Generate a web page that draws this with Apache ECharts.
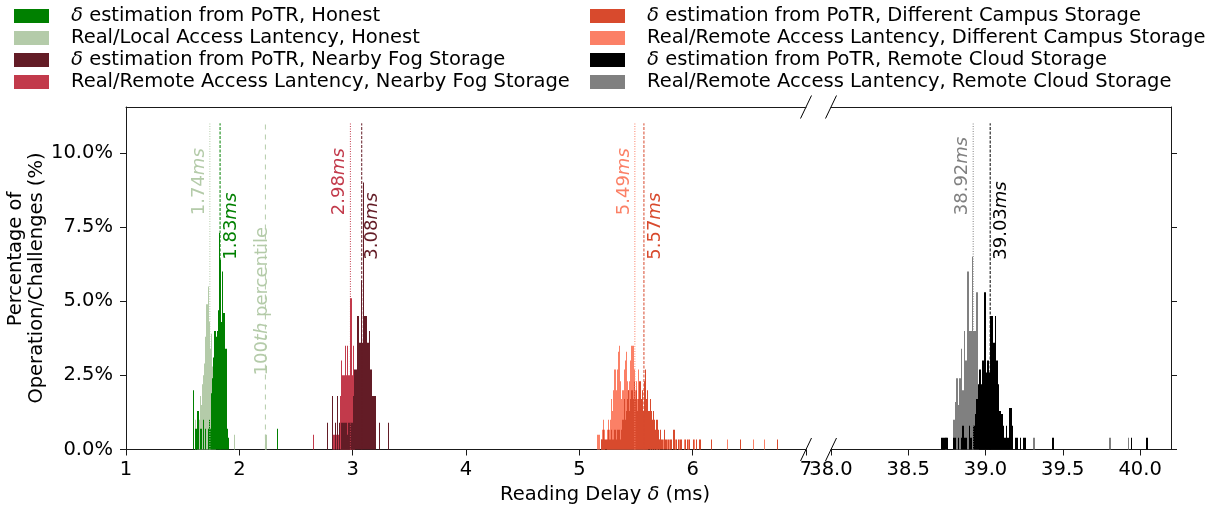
<!DOCTYPE html>
<html>
<head>
<meta charset="utf-8">
<script src="https://cdn.jsdelivr.net/npm/echarts@6/dist/echarts.min.js"></script>
<style>
html, body { margin: 0; padding: 0; background: #fff; }
#chart { width: 1222px; height: 513px; }
</style>
</head>
<body>
<div id="chart"></div>
<script>
var FONT = 'DejaVu Sans';
var FS = 19.5;    // tick / legend / axis title size
var FS_NOTE = 18; // annotation size
var BIN = 0.01;   // histogram bin width (ms)

// series names (legend order)
var names = [
    'δ estimation from PoTR, Honest',
    'Real/Local Access Lantency, Honest',
    'δ estimation from PoTR, Nearby Fog Storage',
    'Real/Remote Access Lantency, Nearby Fog Storage',
    'δ estimation from PoTR, Different Campus Storage',
    'Real/Remote Access Lantency, Different Campus Storage',
    'δ estimation from PoTR, Remote Cloud Storage',
    'Real/Remote Access Lantency, Remote Cloud Storage'
];
var colors = ['#008000', '#b4cba9', '#631c26', '#c23a4b', '#d84a2d', '#fb8066', '#000000', '#808080'];

// histogram bins: [bin start (ms), percentage]
var honestEst = [[1.59,2.0],[1.61,0.7],[1.62,0.7],[1.63,1.3],[1.65,0.7],[1.66,0.7],[1.68,1.0],[1.70,0.7],[1.72,0.7],[1.73,1.0],[1.74,0.7],[1.75,1.9],[1.76,2.4],[1.77,3.1],[1.78,4.0],[1.79,3.8],[1.80,4.0],[1.81,4.7],[1.82,7.3],[1.83,6.4],[1.84,4.3],[1.85,6.0],[1.86,4.6],[1.87,3.4],[1.88,3.4],[1.89,0.7],[1.90,0.4],[2.33,0.7]];
var honestReal = [[1.61,1.0],[1.63,0.7],[1.64,1.0],[1.65,1.8],[1.66,1.5],[1.67,2.2],[1.68,2.5],[1.69,2.9],[1.70,3.8],[1.71,4.9],[1.72,5.5],[1.73,4.3],[1.74,3.4],[1.75,3.9],[1.76,2.8],[1.77,1.5],[1.78,0.7],[1.95,0.5],[2.23,0.5]];
var fogEst = [[2.77,0.9],[2.82,1.8],[2.84,0.9],[2.86,1.8],[2.88,0.9],[2.90,0.9],[2.91,0.9],[2.92,0.9],[2.93,0.9],[2.94,0.9],[2.95,0.5],[2.96,0.9],[2.97,0.9],[2.98,0.9],[2.99,0.9],[3.00,1.8],[3.01,2.7],[3.02,2.7],[3.03,2.7],[3.04,4.5],[3.05,4.5],[3.06,3.6],[3.07,5.7],[3.08,3.6],[3.09,9.0],[3.10,4.5],[3.11,4.5],[3.12,4.5],[3.13,3.6],[3.14,4.0],[3.15,2.7],[3.16,2.7],[3.17,1.8],[3.18,1.8],[3.19,1.8],[3.20,1.8],[3.23,0.9],[3.31,0.9]];
var fogReal = [[2.65,0.5],[2.83,0.5],[2.85,0.5],[2.87,0.5],[2.89,1.8],[2.90,3.0],[2.91,2.5],[2.92,2.5],[2.93,3.5],[2.94,2.5],[2.95,3.5],[2.96,2.5],[2.97,2.5],[2.98,5.1],[2.99,2.5],[3.00,3.5],[3.01,2.0]];
var campusEst = [[5.19,0.34],[5.20,0.34],[5.21,0.67],[5.22,0.34],[5.23,0.34],[5.24,0.34],[5.25,0.67],[5.26,0.34],[5.27,0.34],[5.28,0.67],[5.29,0.34],[5.30,0.34],[5.31,0.67],[5.32,0.34],[5.33,0.67],[5.34,0.67],[5.35,0.67],[5.36,0.34],[5.37,0.67],[5.38,1.0],[5.39,1.7],[5.40,1.0],[5.41,1.3],[5.42,1.7],[5.43,2.0],[5.44,1.3],[5.45,1.7],[5.46,2.0],[5.47,1.7],[5.48,2.3],[5.49,1.7],[5.50,2.0],[5.51,1.3],[5.52,1.7],[5.53,2.3],[5.54,1.7],[5.55,2.0],[5.56,1.3],[5.57,2.3],[5.58,2.7],[5.59,1.7],[5.60,2.0],[5.61,1.3],[5.62,1.7],[5.63,1.3],[5.64,1.0],[5.65,1.3],[5.66,1.0],[5.67,0.67],[5.68,1.0],[5.69,0.67],[5.70,0.34],[5.71,0.67],[5.72,0.34],[5.73,0.34],[5.75,0.67],[5.76,0.34],[5.78,0.34],[5.80,0.34],[5.81,0.34],[5.83,0.67],[5.85,0.34],[5.87,0.34],[5.89,0.34],[5.90,0.34],[5.93,0.34],[5.95,0.34],[5.97,0.34],[6.00,0.34],[6.03,0.34],[6.06,0.34],[6.16,0.34],[6.42,0.34],[6.74,0.34]];
var campusReal = [[5.16,0.5],[5.17,0.5],[5.19,0.34],[5.20,0.67],[5.21,1.0],[5.22,0.67],[5.24,0.67],[5.25,1.0],[5.26,0.67],[5.27,1.0],[5.28,1.7],[5.29,1.3],[5.30,2.0],[5.31,2.7],[5.32,2.0],[5.33,2.7],[5.34,3.3],[5.35,3.5],[5.36,2.3],[5.37,1.7],[5.38,2.0],[5.39,2.7],[5.40,3.0],[5.41,3.3],[5.42,2.3],[5.43,2.0],[5.44,2.3],[5.45,3.0],[5.46,3.5],[5.47,3.5],[5.48,2.7],[5.49,2.0],[5.50,2.3],[5.51,1.7],[5.52,2.7],[5.53,1.3],[5.54,1.7],[5.55,1.0],[5.56,1.3],[5.57,1.0],[5.58,1.3],[5.59,0.67],[5.60,1.0],[5.62,0.67],[5.64,0.67],[5.66,0.34],[5.68,0.67],[5.70,0.34],[5.74,0.34],[5.77,0.34],[5.79,0.34],[5.84,0.34],[5.88,0.34],[5.92,0.34],[5.96,0.34],[6.01,0.34],[6.30,0.34],[6.53,0.34],[6.63,0.34]];
var cloudEst = [[38.71,0.4],[38.72,0.4],[38.73,0.4],[38.74,0.4],[38.75,0.4],[38.79,0.4],[38.80,0.4],[38.82,0.4],[38.84,0.4],[38.85,0.8],[38.86,0.4],[38.87,0.4],[38.89,0.8],[38.90,0.4],[38.92,0.8],[38.93,1.2],[38.94,1.7],[38.95,2.2],[38.96,2.7],[38.97,2.2],[38.98,3.0],[38.99,5.3],[39.00,2.6],[39.01,3.0],[39.02,2.6],[39.03,4.5],[39.04,4.5],[39.05,3.6],[39.06,4.5],[39.07,3.0],[39.08,2.2],[39.09,1.3],[39.10,1.2],[39.11,0.8],[39.12,0.4],[39.13,0.8],[39.14,0.4],[39.15,1.4],[39.16,1.4],[39.17,0.8],[39.19,0.4],[39.20,0.4],[39.22,0.4],[39.24,0.4],[39.25,0.4],[39.43,0.4],[39.94,0.4],[40.04,0.4]];
var cloudReal = [[38.74,0.4],[38.79,1.0],[38.80,1.6],[38.81,2.4],[38.82,1.5],[38.83,2.4],[38.84,3.4],[38.85,2.0],[38.86,4.0],[38.87,3.0],[38.88,6.0],[38.89,4.0],[38.90,4.0],[38.91,6.5],[38.92,4.0],[38.93,4.0],[38.94,5.3],[38.95,1.8],[39.31,0.4],[39.80,0.4],[39.92,0.4]];

// mean values (ms) and the 100th percentile of the honest real latency
var meanEst = [1.83, 3.08, 5.57, 39.03];
var meanReal = [1.74, 2.98, 5.49, 38.92];
var percentile100 = 2.23;

var xTicksLeft = [1, 2, 3, 4, 5, 6, 7];
var xTicksRight = [38.0, 38.5, 39.0, 39.5, 40.0];
var yTicks = [0, 2.5, 5, 7.5, 10];

var LINE_TOP = 11;

var myChart = echarts.init(document.getElementById('chart'));

function histSeries(idx, data, grid) {
    var color = colors[idx];
    return {
        name: names[idx],
        type: 'custom',
        xAxisIndex: grid * 2,
        yAxisIndex: grid,
        silent: true,
        itemStyle: { color: color },
        data: data,
        renderItem: function (params, api) {
            var x = api.value(0);
            var y = api.value(1);
            var p0 = api.coord([x, 0]);
            var p1 = api.coord([x + BIN, y]);
            // snap to whole pixels so neighbouring bins join without seams
            var xa = Math.round(p0[0]);
            var xb = Math.max(Math.round(p1[0]), xa + 1);
            return {
                type: 'rect',
                shape: { x: xa, y: p1[1], width: xb - xa, height: p0[1] - p1[1] },
                style: { fill: color }
            };
        }
    };
}

// vertical mean line with rotated label
function meanLine(x, color, dash, side, grid) {
    return {
        type: 'custom',
        xAxisIndex: grid * 2,
        yAxisIndex: grid,
        silent: true,
        z: 5,
        data: [[x]],
        renderItem: function (params, api) {
            var v = api.value(0);
            var b = api.coord([v, 0]);
            var t = api.coord([v, LINE_TOP]);
            var l = api.coord([v, side === 'left' ? 7.9 : 6.4]);
            return {
                type: 'group',
                children: [{
                    type: 'line',
                    shape: { x1: b[0], y1: b[1], x2: t[0], y2: t[1] },
                    style: { stroke: color, lineWidth: 1, lineDash: dash }
                }, {
                    type: 'text',
                    x: l[0] + (side === 'left' ? -2 : 2),
                    y: l[1],
                    rotation: Math.PI / 2,
                    style: {
                        text: v.toFixed(2) + '{i|ms}',
                        fill: color,
                        fontSize: FS_NOTE,
                        fontFamily: FONT,
                        align: 'left',
                        verticalAlign: side === 'left' ? 'bottom' : 'top',
                        rich: { i: { fontStyle: 'italic', fontSize: FS_NOTE, fontFamily: FONT, fill: color } }
                    }
                }]
            };
        }
    };
}

var series = [
    histSeries(1, honestReal, 0),
    histSeries(0, honestEst, 0),
    histSeries(3, fogReal, 0),
    histSeries(2, fogEst, 0),
    histSeries(5, campusReal, 0),
    histSeries(4, campusEst, 0),
    histSeries(7, cloudReal, 1),
    histSeries(6, cloudEst, 1)
];
for (var k = 0; k < 4; k++) {
    var g = k === 3 ? 1 : 0;
    series.push(meanLine(meanReal[k], colors[k * 2 + 1], [1, 1.5], 'left', g));
    series.push(meanLine(meanEst[k], colors[k * 2], [3, 1.5], 'right', g));
}
// 100th percentile line
series.push({
    type: 'custom',
    xAxisIndex: 0,
    yAxisIndex: 0,
    silent: true,
    z: 5,
    data: [[percentile100]],
    renderItem: function (params, api) {
        var v = api.value(0);
        var b = api.coord([v, 0]);
        var t = api.coord([v, LINE_TOP]);
        var m = api.coord([v, 5.0]);
        return {
            type: 'group',
            children: [{
                type: 'line',
                shape: { x1: b[0], y1: b[1], x2: t[0], y2: t[1] },
                style: { stroke: colors[1], lineWidth: 1, lineDash: [5, 5] }
            }, {
                type: 'text',
                x: m[0] - 3,
                y: m[1],
                rotation: Math.PI / 2,
                style: {
                    text: '100{i|th} percentile',
                    fill: colors[1],
                    fontSize: FS_NOTE,
                    fontFamily: FONT,
                    align: 'center',
                    verticalAlign: 'middle',
                    rich: { i: { fontStyle: 'italic', fontSize: FS_NOTE, fontFamily: FONT, fill: colors[1] } }
                }
            }]
        };
    }
});

var axisLineStyle = { show: true, onZero: false, lineStyle: { color: '#1a1a1a', width: 1 } };
var tickLabel = { color: '#000', fontSize: FS, fontFamily: FONT };

var legendBase = {
    orient: 'vertical',
    top: 6,
    padding: 0,
    icon: 'rect',
    itemWidth: 35,
    itemHeight: 14,
    itemGap: 2,
    selectedMode: false,
    formatter: function (name) { return name.replace('δ', '{i|δ}'); },
    textStyle: {
        color: '#000', fontSize: FS, fontFamily: FONT, padding: [0, 0, 0, 17],
        rich: { i: { fontStyle: 'italic', fontSize: FS, fontFamily: FONT, color: '#000' } }
    }
};

option = {
    animation: false,
    backgroundColor: '#fff',
    legend: [
        echarts.util.merge({ left: 14, data: names.slice(0, 4) }, legendBase),
        echarts.util.merge({ left: 590, data: names.slice(4, 8) }, legendBase)
    ],
    grid: [
        { left: 126, top: 107, width: 680, height: 342.5 },
        { left: 831, top: 107, width: 340, height: 342.5 }
    ],
    xAxis: [{
        gridIndex: 0, type: 'value', min: 1, max: 7, interval: 1, position: 'bottom',
        axisLine: axisLineStyle,
        axisTick: { show: true, length: 6, lineStyle: { color: '#1a1a1a' } },
        axisLabel: echarts.util.merge({ margin: 10, customValues: xTicksLeft }, tickLabel),
        splitLine: { show: false }
    }, {
        gridIndex: 0, type: 'value', min: 1, max: 7, position: 'top',
        axisLine: axisLineStyle, axisTick: { show: false }, axisLabel: { show: false }, splitLine: { show: false }
    }, {
        gridIndex: 1, type: 'value', min: 38, max: 40.2, interval: 0.5, position: 'bottom',
        axisLine: axisLineStyle,
        axisTick: { show: true, length: 6, customValues: xTicksRight, lineStyle: { color: '#1a1a1a' } },
        axisLabel: echarts.util.merge({
            margin: 10, customValues: xTicksRight,
            formatter: function (v) { return v.toFixed(1); }
        }, tickLabel),
        splitLine: { show: false }
    }, {
        gridIndex: 1, type: 'value', min: 38, max: 40.2, position: 'top',
        axisLine: axisLineStyle, axisTick: { show: false }, axisLabel: { show: false }, splitLine: { show: false }
    }],
    yAxis: [{
        gridIndex: 0, type: 'value', min: 0, max: 11.55, interval: 2.5, position: 'left',
        axisLine: axisLineStyle,
        axisTick: { show: true, length: 6, customValues: yTicks, lineStyle: { color: '#1a1a1a' } },
        axisLabel: echarts.util.merge({
            margin: 13, customValues: yTicks,
            formatter: function (v) { return v.toFixed(1) + '%'; }
        }, tickLabel),
        splitLine: { show: false }
    }, {
        gridIndex: 1, type: 'value', min: 0, max: 11.55, interval: 2.5, position: 'right',
        axisLine: axisLineStyle,
        axisTick: { show: true, length: 6, customValues: yTicks, lineStyle: { color: '#1a1a1a' } },
        axisLabel: { show: false },
        splitLine: { show: false }
    }],
    series: series
};

myChart.setOption(option);

// broken-axis marks and axis titles
var pL0 = myChart.convertToPixel({ gridIndex: 0 }, [7, 0]);
var pL1 = myChart.convertToPixel({ gridIndex: 0 }, [7, 11.55]);
var pR0 = myChart.convertToPixel({ gridIndex: 1 }, [38, 0]);
var pR1 = myChart.convertToPixel({ gridIndex: 1 }, [38, 11.55]);
var graphics = [];
[pL0, pL1, pR0, pR1].forEach(function (p) {
    graphics.push({
        type: 'line', silent: true,
        shape: { x1: p[0] - 5.5, y1: p[1] + 11.5, x2: p[0] + 5.5, y2: p[1] - 11.5 },
        style: { stroke: '#000', lineWidth: 1 }
    });
});
graphics.push({
    type: 'text', x: 605, y: 495,
    style: {
        text: 'Reading Delay {i|δ} (ms)', fill: '#000', fontSize: FS, fontFamily: FONT,
        align: 'center', verticalAlign: 'middle',
        rich: { i: { fontStyle: 'italic', fontSize: FS, fontFamily: FONT, fill: '#000' } }
    }
});
graphics.push({
    type: 'text', x: 16, y: 259, rotation: Math.PI / 2,
    style: { text: 'Percentage of', fill: '#000', fontSize: FS, fontFamily: FONT, align: 'center', verticalAlign: 'middle' }
});
graphics.push({
    type: 'text', x: 37, y: 278, rotation: Math.PI / 2,
    style: { text: 'Operation/Challenges (%)', fill: '#000', fontSize: FS, fontFamily: FONT, align: 'center', verticalAlign: 'middle' }
});
myChart.setOption({ graphic: graphics });
</script>
</body>
</html>
